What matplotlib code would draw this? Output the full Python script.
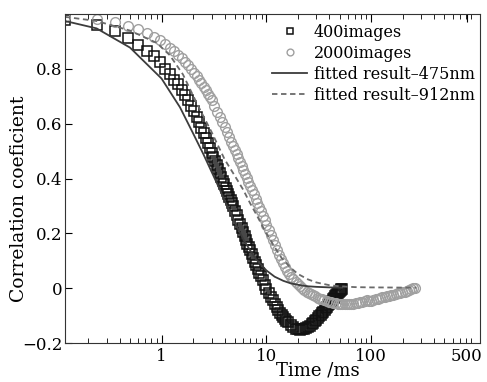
import numpy as np
import matplotlib.pyplot as plt

plt.rcParams['font.family'] = ['DejaVu Serif']

# 400 images (squares)
sq_t = [0.12, 0.24, 0.36, 0.48, 0.60, 0.72, 0.84, 0.96, 1.08, 1.20, 1.32, 1.44, 1.56, 1.68,
        1.80, 1.92, 2.04, 2.16, 2.28, 2.40, 2.52, 2.64, 2.76, 2.88, 3.00, 3.12, 3.24, 3.36,
        3.48, 3.60, 3.72, 3.84, 3.96, 4.08, 4.20, 4.32, 4.44, 4.56, 4.68, 4.80,
        5.0, 5.2, 5.4, 5.6, 5.8, 6.0, 6.2, 6.4, 6.6, 6.8, 7.0, 7.25, 7.5, 7.75, 8.0, 8.3,
        8.6, 8.9, 9.2, 9.6, 10.0, 10.5, 11, 11.5, 12, 12.5, 13, 13.5, 14, 14.5, 15, 15.5,
        16, 17, 18, 19, 20, 21, 22, 23, 24, 25, 26, 27, 28, 29, 30, 31, 32, 33, 34, 35, 36,
        37, 38, 39, 40, 41, 42, 43, 44, 45, 46, 47, 48, 49, 50, 51, 52, 53]
sq_v = [0.98, 0.96, 0.937, 0.912, 0.886, 0.864, 0.846, 0.824, 0.80, 0.78, 0.76, 0.745, 0.725, 0.705,
        0.685, 0.665, 0.645, 0.625, 0.605, 0.585, 0.566, 0.548, 0.53, 0.512, 0.495, 0.479, 0.463, 0.448,
        0.434, 0.42, 0.406, 0.393, 0.379, 0.367, 0.355, 0.343, 0.332, 0.321, 0.31, 0.30,
        0.283, 0.266, 0.25, 0.234, 0.219, 0.204, 0.19, 0.176, 0.163, 0.15, 0.138, 0.124, 0.11, 0.097, 0.084, 0.07,
        0.056, 0.043, 0.03, 0.012, -0.004, -0.018, -0.031, -0.044, -0.057, -0.068, -0.079, -0.089, -0.098, -0.106, -0.113, -0.119,
        -0.125, -0.135, -0.142, -0.147, -0.15, -0.151, -0.15, -0.148, -0.145, -0.141, -0.137, -0.132, -0.127, -0.121, -0.115, -0.109, -0.103, -0.097, -0.091, -0.085, -0.079,
        -0.073, -0.067, -0.061, -0.056, -0.05, -0.045, -0.04, -0.035, -0.03, -0.025, -0.021, -0.017, -0.013, -0.01, -0.007, -0.004, -0.002]

# 2000 images (circles)
ci_t = [0.12, 0.24, 0.36, 0.48, 0.60, 0.72, 0.84, 0.96, 1.08, 1.20, 1.32, 1.44, 1.56, 1.68,
        1.80, 1.92, 2.04, 2.16, 2.28, 2.40, 2.52, 2.64, 2.76, 2.88, 3.0, 3.2, 3.4, 3.6, 3.8,
        4.0, 4.2, 4.4, 4.6, 4.8, 5.0, 5.2, 5.4, 5.6, 5.8, 6.0, 6.25, 6.5, 6.75, 7.0, 7.3, 7.6,
        7.9, 8.2, 8.5, 8.8, 9.2, 9.6, 10.0, 10.5, 11.0, 11.5, 12.0, 12.6, 13.2, 13.8, 14.4,
        15.1, 15.8, 16.5, 17.3, 18.1, 19.0, 19.9, 20.9, 21.9, 23.0, 24.2, 25.4, 26.7, 28.0,
        29.4, 30.9, 32.5, 34.1, 35.8, 37.6, 39.5, 41.5, 43.6, 45.8, 48.1, 50.5, 53.0, 55.7,
        58.5, 61.4, 64.5, 67.7, 71.1, 74.7, 78.4, 82.3, 86.4, 90.7, 95.2, 100, 105, 110, 116,
        122, 128, 134, 141, 148, 155, 163, 171, 180, 189, 198, 208, 218, 229, 240, 252, 262]
ci_v = [0.99, 0.982, 0.97, 0.958, 0.945, 0.932, 0.918, 0.905, 0.892, 0.878, 0.865, 0.852, 0.84, 0.826,
        0.813, 0.80, 0.787, 0.774, 0.761, 0.748, 0.735, 0.722, 0.709, 0.697, 0.685, 0.664, 0.644, 0.624, 0.605,
        0.587, 0.569, 0.552, 0.535, 0.519, 0.503, 0.488, 0.474, 0.46, 0.446, 0.433, 0.417, 0.402, 0.388, 0.372, 0.357, 0.342,
        0.326, 0.31, 0.296, 0.282, 0.265, 0.248, 0.232, 0.212, 0.193, 0.175, 0.159, 0.141, 0.123, 0.107, 0.093,
        0.077, 0.064, 0.053, 0.042, 0.033, 0.024, 0.016, 0.008, 0.001, -0.006, -0.012, -0.017, -0.022, -0.026,
        -0.03, -0.034, -0.038, -0.041, -0.044, -0.047, -0.049, -0.051, -0.053, -0.055, -0.056, -0.057, -0.058, -0.058,
        -0.058, -0.057, -0.058, -0.057, -0.055, -0.053, -0.051, -0.049, -0.046, -0.044, -0.045, -0.046, -0.044, -0.041, -0.038,
        -0.035, -0.033, -0.031, -0.03, -0.029, -0.026, -0.023, -0.021, -0.019, -0.017, -0.015, -0.012, -0.01, -0.007, -0.004, -0.001, 0.002]

# fitted result 475nm (solid)
f1_t = [0.12, 0.24, 0.5, 1.0, 1.5, 2.0, 2.5, 3.0, 3.5, 4.0, 5.0, 6.0, 7.0, 8.0, 10, 12, 14.5, 17, 21, 25, 30, 40, 53]
f1_v = [0.975, 0.948, 0.878, 0.765, 0.66, 0.565, 0.49, 0.425, 0.37, 0.32, 0.24, 0.18, 0.138, 0.105, 0.065, 0.042, 0.027, 0.018, 0.011, 0.007, 0.005, 0.003, 0.002]

# fitted result 912nm (dashed)
f2_t = [0.12, 0.24, 0.5, 0.9, 1.2, 1.6, 2.2, 3.0, 4.0, 5.0, 6.0, 7.0, 8.0, 10, 12, 14, 17, 20, 25, 30, 40, 50, 70, 100, 270]
f2_v = [0.99, 0.975, 0.94, 0.895, 0.85, 0.78, 0.67, 0.57, 0.47, 0.41, 0.36, 0.31, 0.27, 0.20, 0.15, 0.11, 0.075, 0.052, 0.032, 0.021, 0.011, 0.007, 0.004, 0.003, 0.002]

fig = plt.figure(figsize=(4.87, 3.82), dpi=100)
ax = fig.add_axes([0.1335, 0.102, 0.852, 0.861])

ax.plot(sq_t, sq_v, 's', ms=6.5, mfc='none', mec='#111111', mew=1.1, label='400images')
ax.plot(ci_t, ci_v, 'o', ms=7, mfc='none', mec='#a0a0a0', mew=1.0, label='2000images')
ax.plot(f1_t, f1_v, '-', color='#3c3c3c', lw=1.3, label='fitted result\u2013475nm')
ax.plot(f2_t, f2_v, '--', color='#6a6a6a', lw=1.3, dashes=(3, 2), label='fitted result\u2013912nm')

ax.set_xscale('log')
ax.set_xlim(0.12, 1090)
ax.set_ylim(-0.2, 1.0)
ax.set_xticks([1, 10, 100, 820], ['1', '10', '100', '500'])
ax.xaxis.get_major_ticks()[3].tick1line.set_visible(False)
ax.xaxis.get_major_ticks()[3].tick2line.set_visible(False)
ax.set_yticks([-0.2, 0, 0.2, 0.4, 0.6, 0.8], ['\u22120.2', '0', '0.2', '0.4', '0.6', '0.8'])
ax.tick_params(axis='x', which='both', direction='in', top=True, labelsize=12)
ax.tick_params(axis='x', which='major', length=6)
ax.tick_params(axis='x', which='minor', length=3.5)
ax.tick_params(axis='y', direction='in', length=5, labelsize=12, pad=2)
for s in ax.spines.values():
    s.set_color('#333333')

ax.set_xlabel('Time /ms', fontsize=13)
ax.xaxis.set_label_coords(0.61, -0.055)
ax.set_ylabel('Correlation coeficient', fontsize=13.5)
ax.yaxis.set_label_coords(-0.09, 0.44)

leg = ax.legend(loc='upper right', frameon=False, fontsize=11.5, handlelength=2.2,
                handletextpad=0.4, labelspacing=0.25, markerscale=0.7,
                bbox_to_anchor=(1.01, 1.0), borderaxespad=0.2)

plt.savefig('out.png', dpi=100)
